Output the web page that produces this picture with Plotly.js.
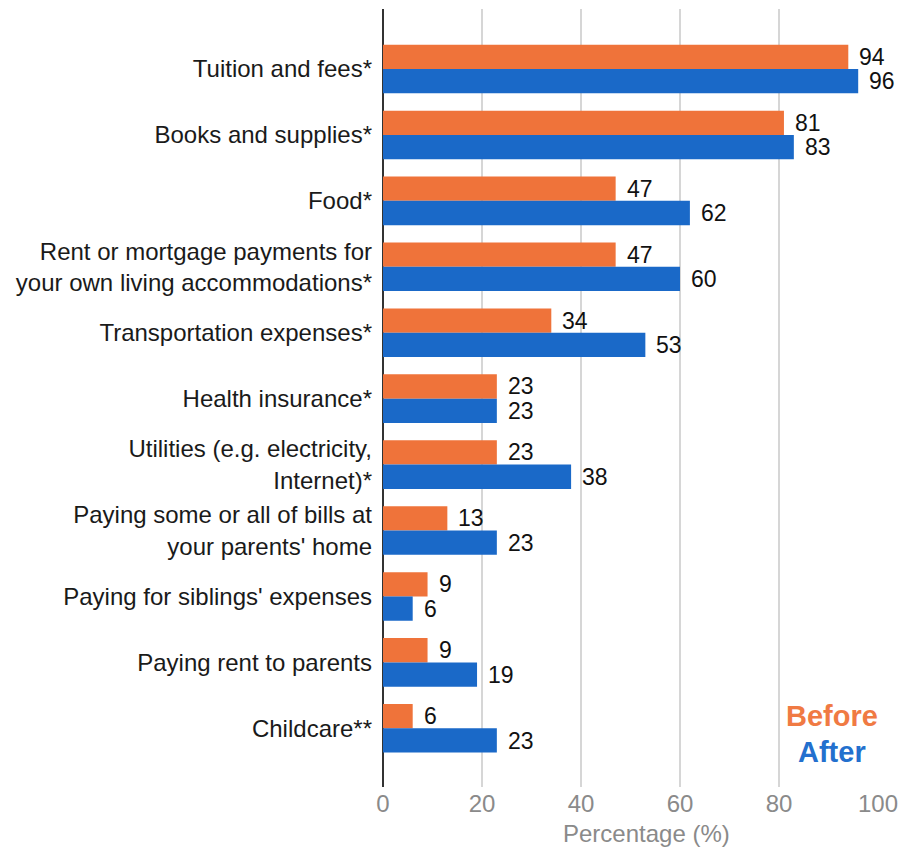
<!DOCTYPE html>
<html>
<head>
<meta charset="utf-8">
<script src="https://cdn.plot.ly/plotly-3.0.1.min.js"></script>
<style>
  html, body { margin: 0; padding: 0; background: #fff; }
  #chart { width: 899px; height: 848px; }
</style>
</head>
<body>
<div id="chart"></div>
<script>
const categories = [
  "Tuition and fees*",
  "Books and supplies*",
  "Food*",
  "Rent or mortgage payments for<br>your own living accommodations*",
  "Transportation expenses*",
  "Health insurance*",
  "Utilities (e.g. electricity,<br>Internet)*",
  "Paying some or all of bills at<br>your parents' home",
  "Paying for siblings' expenses",
  "Paying rent to parents",
  "Childcare**"
];
const beforeValues = [94, 81, 47, 47, 34, 23, 23, 13, 9, 9, 6];
const afterValues  = [96, 83, 62, 60, 53, 23, 38, 23, 6, 19, 23];
const xTickValues = [0, 20, 40, 60, 80, 100];
const seriesNames = ["Before", "After"];
const axisTitle = "Percentage (%)";

const ORANGE = "#EF733A";
const BLUE = "#1A69C8";
const FONT = "Liberation Sans, Arial, sans-serif";

const traces = [
  {
    type: "bar", orientation: "h", name: seriesNames[0],
    y: categories, x: beforeValues,
    marker: { color: ORANGE }, hoverinfo: "x+y"
  },
  {
    type: "bar", orientation: "h", name: seriesNames[1],
    y: categories, x: afterValues,
    marker: { color: BLUE }, hoverinfo: "x+y"
  }
];

const annotations = [];
categories.forEach((c, i) => {
  annotations.push({
    x: beforeValues[i], y: c, xref: "x", yref: "y",
    text: String(beforeValues[i]), showarrow: false,
    xanchor: "left", yanchor: "middle", xshift: 9, yshift: 12.2,
    font: { family: FONT, size: 23, color: "#111" }
  });
  annotations.push({
    x: afterValues[i], y: c, xref: "x", yref: "y",
    text: String(afterValues[i]), showarrow: false,
    xanchor: "left", yanchor: "middle", xshift: 9, yshift: -12.2,
    font: { family: FONT, size: 23, color: "#111" }
  });
});
annotations.push({
  xref: "paper", yref: "paper", x: (832 - 383) / 495, y: (787 - 716) / 778,
  text: "<b>" + seriesNames[0] + "</b>", showarrow: false,
  xanchor: "center", yanchor: "middle", bgcolor: "#fff", borderpad: 3,
  font: { family: FONT, size: 29, color: "#F07A43" }
});
annotations.push({
  xref: "paper", yref: "paper", x: (832 - 383) / 495, y: (787 - 752) / 778,
  text: "<b>" + seriesNames[1] + "</b>", showarrow: false,
  xanchor: "center", yanchor: "middle", bgcolor: "#fff", borderpad: 3,
  font: { family: FONT, size: 29, color: "#2370CE" }
});
annotations.push({
  xref: "paper", yref: "paper", x: (646 - 383) / 495, y: (787 - 833) / 778,
  text: axisTitle, showarrow: false,
  xanchor: "center", yanchor: "middle",
  font: { family: FONT, size: 24, color: "#8a8a8a" }
});

const layout = {
  width: 899, height: 848,
  margin: { l: 383, r: 21, t: 9, b: 61 },
  paper_bgcolor: "#fff", plot_bgcolor: "#fff",
  barmode: "group", bargap: 0.263, bargroupgap: 0,
  showlegend: false,
  font: { family: FONT, size: 24, color: "#222" },
  xaxis: {
    range: [0, 100], tickvals: xTickValues, ticktext: xTickValues.map(String),
    showgrid: true, gridcolor: "#d6d6d6", gridwidth: 2,
    zeroline: true, zerolinecolor: "#333", zerolinewidth: 2,
    showline: false, ticks: "",
    tickfont: { family: FONT, size: 24, color: "#8a8a8a" },
    fixedrange: true
  },
  yaxis: {
    type: "category", categoryorder: "array", categoryarray: categories,
    range: [10.89, -0.91],
    showgrid: false, zeroline: false, showline: false, ticks: "",
    ticklabelstandoff: 10,
    tickfont: { family: FONT, size: 24, color: "#1a1a1a" },
    fixedrange: true
  },
  annotations: annotations
};

Plotly.newPlot("chart", traces, layout, { displayModeBar: false, staticPlot: true });
</script>
</body>
</html>
